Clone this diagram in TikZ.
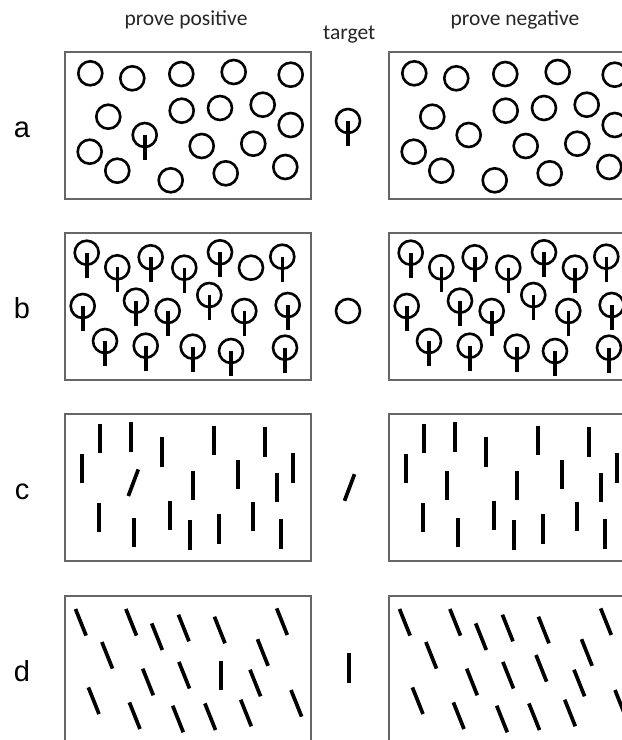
\documentclass[tikz,border=0pt]{standalone}
\usepackage{fontspec}
\newfontfamily\hdrfont{Carlito}
\newfontfamily\lblfont{Liberation Sans}
\begin{document}
\begin{tikzpicture}[x=1pt,y=-1pt,
  panel/.style={draw=black!60,line width=1.2pt},
  ring/.style={draw=black,line width=2.6pt},
  stem/.style={draw=black,line width=3.6pt,line cap=butt},
  stick/.style={draw=black,line width=3.7pt,line cap=butt},
  hdr/.style={font=\hdrfont\fontsize{21.5}{24}\selectfont,anchor=base,inner sep=0pt,text=black!85},
  lbl/.style={font=\lblfont\fontsize{29}{32}\selectfont,anchor=base,inner sep=0pt}]
\useasboundingbox (0,0) rectangle (622,740);
\clip (0,0) rectangle (622,740);
\fill[white] (0,0) rectangle (622,740);
% macros for items
\def\plainring#1#2{\draw[ring] (#1,#2) circle[radius=12];}
\def\stemring#1#2{\draw[ring] (#1,#2) circle[radius=12]; \draw[stem] (#1,#2) -- (#1,#2+25);}
\def\vstick#1#2{\draw[stick] (#1,#2-14.6) -- (#1,#2+14.6);}
\def\cstick#1#2{\draw[stick] (#1-5,#2+13.3) -- (#1+5,#2-13.3);}
\def\dstick#1#2{\draw[stick] (#1-5.3,#2-13.3) -- (#1+5.3,#2+13.3);}
% headers
\node[hdr] (hpos) at (186,25.7) {prove positive};
\node[hdr] (htgt) at (349.3,39.3) {target};
\node[hdr] (hneg) at (515,25.7) {prove negative};
% row labels
\node[lbl] (la) at (22,137.3) {a};
\node[lbl] (lb) at (22,318.6) {b};
\node[lbl] (lc) at (22,499.9) {c};
\node[lbl] (ld) at (22,681.2) {d};
% panels (left and right, shift 324)
\foreach \t in {52,233,414,596}{
  \draw[panel] (65,\t) rectangle (311,\t+147);
  \draw[panel] (389,\t) rectangle (635,\t+147);
}
% ---- row a ----
\foreach \s in {0,324}{
 \begin{scope}[xshift=\s]
 \foreach \x/\y in {90.3/73.3,132.3/78.3,181.3/74,233.7/72,290.7/74.7,108.3/116.7,181.7/110.7,220/108,262.7/104.7,290.7/125,89.7/151.7,201.7/146,253.3/143.7,117.3/170.7,170.7/180.3,225.7/173.3,285.3/167}
   {\plainring{\x}{\y}}
 \end{scope}
}
\stemring{144.7}{135}
\plainring{468.7}{135}
\stemring{348}{121}
% ---- row b ----
\foreach \s in {0,324}{
 \begin{scope}[xshift=\s]
 \foreach \x/\y in {86.7/252.7,117.3/267.3,150.7/257.3,184.3/267.7,220/252.3,282.3/256.7,82.7/306,136/300.7,167.7/311,209.3/295,244.3/311,287.7/305,105/341,145.7/345.7,192.7/346.7,231/351,285/347.7}
   {\stemring{\x}{\y}}
 \end{scope}
}
\plainring{251}{267.7}
\stemring{575}{267.7}
\plainring{348}{311}
% ---- row c ----
\foreach \s in {0,324}{
 \begin{scope}[xshift=\s]
 \foreach \x/\y in {100.3/438.7,131.3/437,162.3/452,214.3/440.3,264.7/442,82/468.7,193.3/485.7,238/474.7,293.3/468,277.3/487.3,98.7/517.3,134/532.3,170/515.7,190/535,219.3/529,252.7/516.3,281.3/534}
   {\vstick{\x}{\y}}
 \end{scope}
}
\cstick{133.3}{482.7}
\vstick{446.7}{485.7}
\cstick{349.5}{487.5}
% ---- row d ----
\foreach \s in {0,324}{
 \begin{scope}[xshift=\s]
 \foreach \x/\y in {80.8/622.3,131.2/622.3,157/636.7,183.7/628,219.7/630,282/621.7,107.2/655.3,262.8/652.5,148/682,184.2/675.2,255.3/683,93.7/700.7,296.3/703.3,134.7/715.7,178/719,210.2/716.7,246/713}
   {\dstick{\x}{\y}}
 \end{scope}
}
\vstick{220.7}{675.8}
\dstick{541.3}{668.3}
\vstick{349}{668}
\end{tikzpicture}
\end{document}
